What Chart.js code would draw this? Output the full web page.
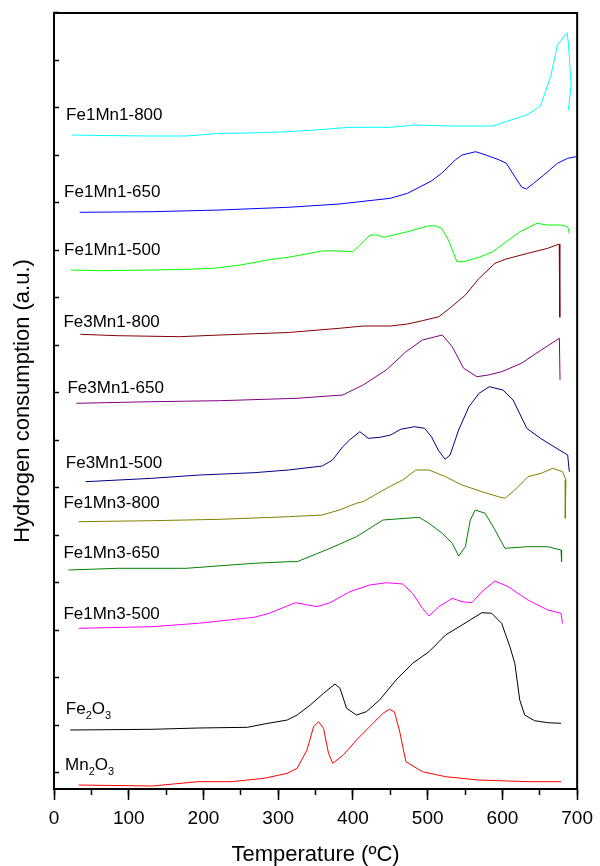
<!DOCTYPE html>
<html>
<head>
<meta charset="utf-8">
<script src="https://cdn.jsdelivr.net/npm/chart.js@4.4.0/dist/chart.umd.min.js"></script>
<style>
  body { margin: 0; background: #fff; }
  #wrap { width: 600px; height: 866px; }
</style>
</head>
<body>
<div id="wrap"><canvas id="tprChart"></canvas></div>
<script>
// H2-TPR profiles: temperature (ºC) and stacked signal (a.u.)
const fe1mn1_800_t = [24, 60, 85.5, 130, 176.6, 222.3, 260, 313.4, 350, 395.5, 450.3, 482.2, 530, 587, 614.3, 632.6, 650.9, 664.5, 673.6, 686.4, 688, 689.5, 691.9, 688.2];
const fe1mn1_800_v = [654, 653.5, 653.3, 653, 653, 655.7, 656, 657.3, 659, 661.7, 661.7, 664, 663, 663, 669.7, 674, 683, 712.3, 744, 756.3, 748, 732.3, 704, 679];

const fe1mn1_650_t = [34.4, 131, 222, 313, 381.8, 450, 473, 486, 505, 518.6, 536.9, 546, 564.2, 577.9, 596.1, 605.2, 616.6, 625.7, 632, 641.7, 655.4, 673.6, 687.3, 698.7];
const fe1mn1_650_v = [576.7, 577.3, 579, 581.7, 585, 590.7, 595.7, 600.7, 608, 615.7, 629, 634, 637.3, 634, 629, 625.7, 612.3, 602, 600, 605.7, 614, 625.7, 630.7, 632.3];

const fe1mn1_500_t = [22.5, 62.8, 131, 176.6, 213.2, 249.6, 290.6, 313.4, 359, 372.7, 400, 406.9, 422.9, 432, 441.2, 473.1, 500.3, 509.5, 518.6, 527.7, 539.1, 548.3, 568.8, 587, 605.2, 623.5, 646.3, 660, 678.1, 687.3, 689.5];
const fe1mn1_500_v = [519, 518.3, 519, 519.7, 520.7, 524, 529.7, 531.7, 538, 538.3, 537.3, 542.3, 554, 554, 551.7, 557.3, 563, 563.3, 560.7, 549, 527.3, 527.3, 531.7, 537.3, 547.3, 557.3, 565.7, 564, 564, 562.3, 555.7];

const fe3mn1_800_t = [35.3, 85.5, 167.6, 222.3, 313.4, 381.8, 413.6, 450.3, 473, 493, 515, 532, 550.5, 568, 590, 605, 634, 660.7, 676, 676.8];
const fe3mn1_800_v = [454.7, 453.3, 452.3, 454, 456.5, 460.7, 463, 463, 465, 468.3, 472.3, 482.3, 494, 510, 525.7, 530, 535.7, 540.7, 545, 471.7];

const fe3mn1_650_t = [29.9, 131, 222.3, 325, 386.3, 413.6, 444.5, 471, 493, 519.5, 532.8, 548.1, 565.9, 581.2, 599, 625.4, 651.9, 676.2, 677.1];
const fe3mn1_650_v = [385.7, 387.3, 388.3, 390.7, 394, 404, 419, 437.3, 449, 454, 442.3, 420.7, 412.3, 414, 417.3, 425.7, 439, 450.7, 409];

const fe3mn1_500_t = [42.2, 131, 194.9, 267.8, 313.4, 359, 372.7, 386.3, 395.5, 409.2, 420.6, 436.5, 450.3, 463.9, 482.2, 495.8, 505, 514.1, 523.2, 530, 541.4, 555.2, 568.8, 582.4, 600.7, 614.3, 632.6, 650.9, 669, 687.3, 689.5];
const fe3mn1_500_v = [307.3, 310.7, 314, 316.3, 319, 323, 329, 342.3, 349, 357.3, 350.7, 351.7, 354, 359.7, 362.3, 360.7, 352.3, 339, 329.7, 334, 359, 382.3, 395.7, 402.3, 399, 389, 360.7, 350.7, 342.3, 334, 317.3];

const fe1mn3_800_t = [33.1, 131, 222.3, 313.4, 359, 381.8, 404.6, 413.6, 448.8, 466.6, 484.2, 501.8, 523.9, 546, 572.5, 594.5, 603.4, 616.6, 634.2, 651.9, 667.3, 680.5, 685, 684.1];
const fe1mn3_800_v = [267.3, 268.3, 269.7, 272.3, 274, 279, 285.7, 287.3, 302.3, 309, 319, 319, 312.3, 304, 297.3, 292.3, 290.7, 299, 312.3, 315.7, 320.7, 317.3, 309, 270.7];

const fe1mn3_650_t = [19.3, 85.5, 176.6, 267.8, 313.4, 325.3, 369.4, 404.7, 440.1, 488.5, 501.8, 519.5, 532.8, 541.5, 550.4, 557, 563.6, 576.9, 590.1, 603.4, 634.2, 660.7, 678.4, 679.2];
const fe1mn3_650_v = [219, 220.7, 220.7, 225.7, 227.3, 227.3, 240.7, 252.3, 269, 271.7, 265.7, 255.7, 245.7, 233, 242.3, 269, 279, 275.7, 259, 240.7, 242.3, 242.3, 239, 227.3];

const fe1mn3_500_t = [33.1, 131, 192.9, 267.8, 287.8, 323, 351.8, 369.4, 395.9, 422.3, 444.5, 466.6, 479.8, 493, 501.8, 515, 532.8, 546, 559.2, 572.5, 590.1, 607.7, 634.2, 660.7, 678.4, 680.5];
const fe1mn3_500_v = [160.7, 162.3, 165.7, 171.7, 175.7, 186.3, 182.3, 186.3, 197.3, 204, 206.3, 205, 195.7, 180.7, 173, 182.3, 190.7, 187.3, 186.3, 197.3, 208, 202.3, 189, 179, 175.7, 165.7];

const fe2o3_t = [21.7, 131, 192.9, 258.7, 281.2, 312.1, 325.3, 342.9, 360.7, 376, 382.7, 391.5, 404.7, 418, 435.6, 457.7, 479.8, 501.8, 523.9, 546, 572.5, 585.7, 599, 610, 616.6, 623.2, 629.8, 643, 660.7, 678.4];
const fe2o3_v = [59, 59.7, 61, 61.7, 65, 69, 74, 84, 95.7, 105, 100.7, 80.7, 74, 77.3, 89, 109, 125.7, 137.3, 154, 164, 176.3, 175.7, 165.7, 142.3, 125.7, 89, 74, 68.3, 66.3, 65.7];

const mn2o3_t = [33.1, 131, 192.9, 237, 281.2, 312.1, 325.3, 338.5, 347.4, 354, 360.7, 367.3, 373, 387.1, 404.7, 426.9, 440.1, 448.8, 455.4, 462.1, 470.9, 493, 523.9, 568, 634.2, 678.4];
const mn2o3_v = [4, 3, 7.3, 7.3, 10.7, 15.7, 20.7, 39, 62.3, 67.3, 60.7, 35.7, 25.7, 34, 49, 65.7, 75.7, 79.7, 77.3, 59, 27.3, 17.3, 12.3, 9, 7.3, 7.3];

// sample names ("_" marks a subscript character)
const sampleNames = ['Fe1Mn1-800', 'Fe1Mn1-650', 'Fe1Mn1-500', 'Fe3Mn1-800', 'Fe3Mn1-650', 'Fe3Mn1-500',
                     'Fe1Mn3-800', 'Fe1Mn3-650', 'Fe1Mn3-500', 'Fe_2O_3', 'Mn_2O_3'];
const sampleTemps = [fe1mn1_800_t, fe1mn1_650_t, fe1mn1_500_t, fe3mn1_800_t, fe3mn1_650_t, fe3mn1_500_t,
                     fe1mn3_800_t, fe1mn3_650_t, fe1mn3_500_t, fe2o3_t, mn2o3_t];
const sampleValues = [fe1mn1_800_v, fe1mn1_650_v, fe1mn1_500_v, fe3mn1_800_v, fe3mn1_650_v, fe3mn1_500_v,
                      fe1mn3_800_v, fe1mn3_650_v, fe1mn3_500_v, fe2o3_v, mn2o3_v];
const sampleColors = ['#00ffff', '#0000ff', '#00ff00', '#800000', '#800080', '#000080',
                      '#808000', '#008000', '#ff00ff', '#000000', '#ff0000'];

// where each name is written (temperature, signal at text baseline)
const labelTemps = [16.2, 13.5, 13.5, 12.6, 18, 15.8, 12.6, 12.6, 12.6, 15.8, 14.8];
const labelValues = [669, 592.3, 534, 461.7, 395.7, 320.7, 280.7, 230.7, 170, 75, 19];

const xMin = 0, xMax = 700;
const yMin = 0, yMax = 776;
const yTickStart = 16.2, yTickStep = 47.5;

Chart.defaults.font.family = '"Liberation Sans", Arial, Helvetica, sans-serif';
Chart.defaults.color = '#000';

const datasets = sampleNames.map((name, i) => ({
    label: name.replace(/_/g, ''),
    data: sampleTemps[i].map((t, j) => ({ x: t, y: sampleValues[i][j] })),
    borderColor: sampleColors[i],
    borderWidth: 1,
    pointRadius: 0,
    tension: 0,
    fill: false,
    xAxisID: 'x',
    yAxisID: 'y'
}));

// top and right side of the frame
const framePlugin = {
    id: 'frame',
    afterDraw(chart) {
        const { ctx, chartArea: a } = chart;
        ctx.save();
        ctx.strokeStyle = '#000';
        ctx.lineWidth = 2;
        ctx.beginPath();
        ctx.moveTo(a.left, a.top);
        ctx.lineTo(a.right, a.top);
        ctx.lineTo(a.right, a.bottom);
        ctx.stroke();
        ctx.restore();
    }
};

// sample names next to each curve
const namePlugin = {
    id: 'sampleNames',
    afterDatasetsDraw(chart) {
        const { ctx, scales } = chart;
        ctx.save();
        ctx.fillStyle = '#000';
        ctx.textAlign = 'left';
        ctx.textBaseline = 'alphabetic';
        sampleNames.forEach((name, i) => {
            let px = scales.x.getPixelForValue(labelTemps[i]);
            const py = scales.y.getPixelForValue(labelValues[i]);
            for (let k = 0; k < name.length; k++) {
                let ch = name[k];
                let sub = false;
                if (ch === '_') { sub = true; k++; ch = name[k]; }
                ctx.font = (sub ? '11px' : '17px') + ' "Liberation Sans", Arial, sans-serif';
                ctx.fillText(ch, px, py + (sub ? 5 : 0));
                px += ctx.measureText(ch).width;
            }
        });
        ctx.restore();
    }
};

const ctx = document.getElementById('tprChart').getContext('2d');
new Chart(ctx, {
    type: 'line',
    data: { datasets: datasets },
    options: {
        responsive: true,
        maintainAspectRatio: false,
        animation: false,
        layout: { padding: { top: 13, right: 17, left: 0, bottom: 0 } },
        plugins: {
            legend: { display: false },
            tooltip: { enabled: false }
        },
        scales: {
            x: {
                type: 'linear',
                position: 'bottom',
                weight: 1,
                min: xMin,
                max: xMax,
                ticks: { stepSize: 100, font: { size: 19 }, padding: 7, maxRotation: 0, color: '#000' },
                grid: { drawOnChartArea: false, tickLength: 11, tickColor: '#000', tickWidth: 1.5 },
                border: { color: '#000', width: 2 },
                title: { display: true, text: 'Temperature (ºC)', font: { size: 22, lineHeight: 1 }, padding: 0, color: '#000' },
                afterFit: function(scale) { scale.height = 77; }
            },
            xMinor: {
                type: 'linear',
                position: 'bottom',
                weight: 0,
                min: xMin,
                max: xMax,
                ticks: { stepSize: 50, display: false },
                grid: { drawOnChartArea: false, tickLength: 6, tickColor: '#000', tickWidth: 1.5 },
                border: { display: false },
                afterFit: function(scale) { scale.height = 0; }
            },
            y: {
                type: 'linear',
                position: 'left',
                min: yMin,
                max: yMax,
                ticks: { display: false },
                afterBuildTicks: function(scale) {
                    const t = [];
                    for (let v = yTickStart; v <= yMax + 1; v += yTickStep) t.push({ value: v });
                    scale.ticks = t;
                },
                grid: { drawOnChartArea: false, tickLength: -5, tickColor: '#000', tickWidth: 1.5 },
                border: { color: '#000', width: 2 },
                title: { display: true, text: 'Hydrogen consumption (a.u.)', font: { size: 22, lineHeight: 1 }, padding: { top: 12, bottom: 0 }, color: '#000' },
                afterFit: function(scale) { scale.width = 54; }
            }
        }
    },
    plugins: [framePlugin, namePlugin]
});
</script>
</body>
</html>
